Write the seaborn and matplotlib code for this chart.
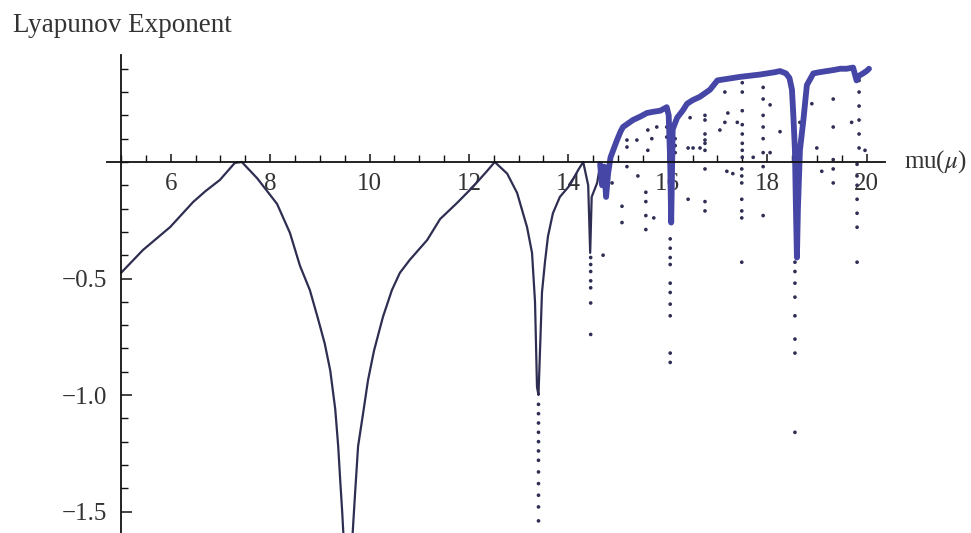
import matplotlib
matplotlib.use("Agg")
import matplotlib.pyplot as plt
import seaborn as sns
import pandas as pd
from matplotlib.ticker import FixedLocator, MultipleLocator, FuncFormatter

# ---- data ----
periodic_mu = [5.00, 5.44, 5.99, 6.45, 6.70, 6.99, 7.29, 7.43, 7.74, 8.14, 8.40, 8.60,
               8.80, 8.96, 9.10, 9.21, 9.31, 9.37, 9.41, 9.45, 9.48, 9.50, 9.62, 9.67,
               9.71, 9.77, 9.87, 9.97, 10.09, 10.27, 10.45, 10.61, 10.81, 11.16, 11.42,
               11.76, 12.08, 12.36, 12.52, 12.77, 12.97, 13.17, 13.27, 13.33, 13.37,
               13.40, 13.44, 13.47, 13.53, 13.59, 13.69, 13.83, 14.03, 14.20, 14.30,
               14.40, 14.44, 14.47, 14.58, 14.64]
periodic_lyap = [-0.476, -0.378, -0.279, -0.172, -0.125, -0.077, -0.004, 0.0, -0.070,
                 -0.180, -0.305, -0.445, -0.550, -0.670, -0.780, -0.895, -1.060, -1.220,
                 -1.365, -1.500, -1.620, -1.750, -1.750, -1.560, -1.420, -1.220, -1.080,
                 -0.936, -0.810, -0.665, -0.550, -0.476, -0.420, -0.335, -0.245, -0.176,
                 -0.107, -0.040, 0.0, -0.050, -0.133, -0.280, -0.390, -0.600, -0.966,
                 -1.000, -0.750, -0.560, -0.430, -0.320, -0.220, -0.150, -0.100, -0.034,
                 0.0, -0.100, -0.390, -0.150, -0.090, -0.013]

chaotic_mu = [14.64, 14.68, 14.72, 14.76, 14.80, 14.85, 14.92, 14.98, 15.05, 15.10, 15.20,
              15.30, 15.45, 15.58, 15.70, 15.85, 15.98, 16.02, 16.05, 16.07, 16.10, 16.19,
              16.30, 16.39, 16.50, 16.65, 16.85, 17.00, 17.15, 17.30, 17.45, 17.65, 17.85,
              18.00, 18.15, 18.26, 18.38, 18.45, 18.50, 18.53, 18.56, 18.58, 18.60, 18.62,
              18.66, 18.73, 18.80, 18.93, 19.05, 19.20, 19.35, 19.47, 19.60, 19.73, 19.80,
              19.85, 19.93, 20.00, 20.05]
chaotic_lyap = [-0.01, -0.10, -0.02, -0.15, -0.05, 0.02, 0.06, 0.094, 0.13, 0.15, 0.165,
                0.18, 0.195, 0.21, 0.215, 0.22, 0.235, 0.20, 0.00, -0.26, 0.14, 0.19,
                0.22, 0.25, 0.265, 0.28, 0.31, 0.35, 0.355, 0.36, 0.365, 0.37, 0.375,
                0.38, 0.385, 0.39, 0.38, 0.36, 0.31, 0.19, 0.05, -0.20, -0.41, -0.20,
                0.05, 0.18, 0.33, 0.38, 0.385, 0.39, 0.395, 0.40, 0.40, 0.405, 0.35,
                0.37, 0.38, 0.39, 0.40]

dots_mu = [13.40, 13.40, 13.40, 13.40, 13.40, 13.40, 13.40, 13.40, 13.40, 13.40, 13.40, 13.40,
           14.45, 14.45, 14.45, 14.45, 14.45, 14.45, 14.45, 14.70, 14.88, 15.08, 15.08,
           15.18, 15.40, 15.56, 15.56, 15.56, 15.56, 15.72,
           16.05, 16.05, 16.05, 16.05, 16.05, 16.05, 16.05, 16.05, 16.05, 16.05,
           16.41, 16.75, 16.75, 16.75, 17.19, 17.31,
           17.49, 17.49, 17.49, 17.49, 17.49, 17.49, 17.49, 17.92, 17.92,
           18.56, 18.56, 18.56, 18.56, 18.56, 18.56, 18.56, 18.56,
           19.10, 19.33, 19.33, 19.81, 19.81, 19.81, 19.81, 19.81, 19.81, 19.81,
           15.18, 15.18, 15.38, 15.60, 15.60, 15.68, 15.78, 15.98, 15.98,
           16.15, 16.15, 16.15, 16.41, 16.45, 16.51, 16.65, 16.75, 16.75, 16.75,
           16.75, 16.75, 16.75, 17.05, 17.15, 17.15, 17.21, 17.40,
           17.50, 17.50, 17.50, 17.50, 17.50, 17.50, 17.50, 17.50, 17.72,
           17.92, 17.92, 17.92, 17.92, 17.92, 17.92, 18.06, 18.06, 18.26,
           18.66, 18.66, 18.90, 19.00, 19.33, 19.33, 19.33, 19.70,
           19.85, 19.85, 19.85, 19.85, 19.85, 19.85, 19.97]
dots_lyap = [-1.04, -1.08, -1.12, -1.16, -1.20, -1.24, -1.28, -1.33, -1.38, -1.43, -1.48, -1.54,
             -0.41, -0.44, -0.47, -0.51, -0.54, -0.605, -0.74, -0.40, -0.09, -0.19, -0.26,
             -0.02, -0.06, -0.13, -0.17, -0.23, -0.29, -0.24,
             -0.33, -0.37, -0.41, -0.44, -0.52, -0.56, -0.61, -0.66, -0.82, -0.86,
             -0.16, -0.03, -0.17, -0.21, -0.04, -0.05,
             -0.03, -0.06, -0.09, -0.16, -0.21, -0.24, -0.43, -0.02, -0.23,
             -0.43, -0.47, -0.52, -0.58, -0.66, -0.76, -0.82, -1.16,
             -0.04, -0.03, -0.09, -0.01, -0.06, -0.10, -0.16, -0.22, -0.28, -0.43,
             0.094, 0.064, 0.094, 0.137, 0.05, 0.10, 0.15, 0.15, 0.107,
             0.10, 0.07, 0.04, 0.06, 0.19, 0.06, 0.06, 0.094, 0.05, 0.20,
             0.18, 0.12, 0.08, 0.137, 0.30, 0.17, 0.21, 0.17,
             0.34, 0.30, 0.22, 0.16, 0.12, 0.08, 0.05, 0.02, 0.02,
             0.32, 0.27, 0.20, 0.15, 0.10, 0.04, 0.245, 0.04, 0.13,
             0.17, 0.08, 0.25, 0.06, 0.27, 0.15, 0.01, 0.17,
             0.35, 0.30, 0.24, 0.18, 0.12, 0.06, 0.05]

x_major_ticks = [6, 8, 10, 12, 14, 16, 18, 20]
y_major_ticks = [-1.5, -1.0, -0.5]

# ---- figure ----
sns.set_theme(style="white")
plt.rcParams["font.family"] = ["Liberation Serif", "DejaVu Serif"]
plt.rcParams["mathtext.fontset"] = "stix"

fig = plt.figure(figsize=(9.71, 5.33), dpi=100)
ax = fig.add_axes([107 / 971, 0.0, 778 / 971, 478 / 533])

periodic = pd.DataFrame({"mu": periodic_mu, "lyap": periodic_lyap})
chaotic = pd.DataFrame({"mu": chaotic_mu, "lyap": chaotic_lyap})
dots = pd.DataFrame({"mu": dots_mu, "lyap": dots_lyap})

sns.lineplot(data=periodic, x="mu", y="lyap", ax=ax, sort=False, estimator=None,
             color="#2e2e52", linewidth=1.6)
sns.lineplot(data=chaotic, x="mu", y="lyap", ax=ax, sort=False, estimator=None,
             color="#4646a6", linewidth=4.2)
sns.scatterplot(data=dots, x="mu", y="lyap", ax=ax, s=7, color="#2f2f55",
                edgecolor="none", linewidth=0)

ax.set_xlim(4.718, 20.372)
ax.set_ylim(-1.592, 0.459)

for side in ["top", "right"]:
    ax.spines[side].set_visible(False)
ax.spines["left"].set_position(("data", 5))
ax.spines["bottom"].set_position(("data", 0))
for side in ["left", "bottom"]:
    ax.spines[side].set_color("#111111")
    ax.spines[side].set_linewidth(1.3)
ax.set_zorder(1)

ax.xaxis.set_major_locator(FixedLocator(x_major_ticks))
ax.xaxis.set_minor_locator(MultipleLocator(0.5))
ax.yaxis.set_major_locator(FixedLocator(y_major_ticks))
ax.yaxis.set_minor_locator(MultipleLocator(0.1))
ax.xaxis.set_major_formatter(FuncFormatter(lambda v, p: f"{v:g}"))
ax.yaxis.set_major_formatter(FuncFormatter(lambda v, p: f"{v:.1f}".replace("-", "\u2212")))

ax.tick_params(axis="x", which="major", direction="in", length=6, width=1.1,
               color="#111111", labelsize=18, pad=8, bottom=True)
ax.tick_params(axis="x", which="minor", direction="in", length=5, width=1.0,
               color="#111111", bottom=True)
ax.tick_params(axis="y", which="major", direction="in", length=8, width=1.1,
               color="#111111", labelsize=18, pad=10, left=True)
ax.tick_params(axis="y", which="minor", direction="in", length=5, width=1.0,
               color="#111111", left=True)
for lab in ax.get_xticklabels() + ax.get_yticklabels():
    lab.set_color("#333333")

ax.set_xlabel("")
ax.set_ylabel("")
ax.grid(False)

ax.text(20.75, 0.0, r"mu($\mu$)", fontsize=18, color="#333333", ha="left",
        va="center", clip_on=False)
fig.text(13 / 971, 1 - 25 / 533, "Lyapunov Exponent", fontsize=19.5,
         color="#333333", ha="left", va="center")

fig.savefig("out.png", dpi=100)
